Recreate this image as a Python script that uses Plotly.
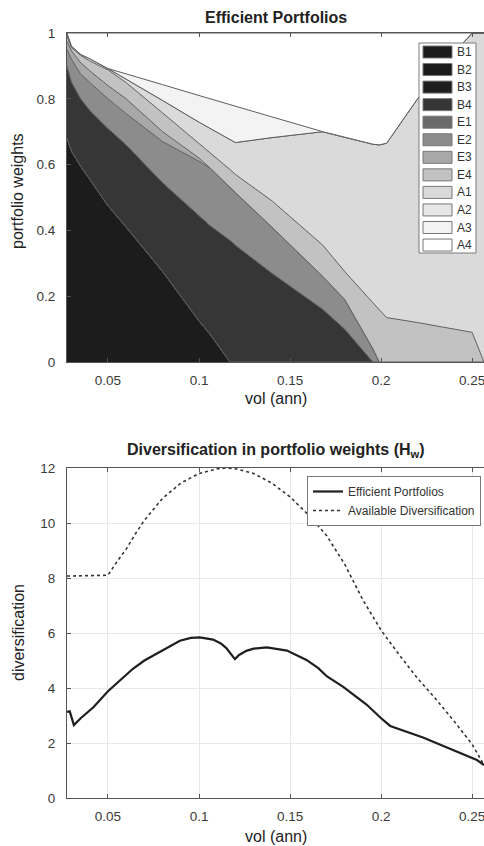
import plotly.graph_objects as go

# ---------------- data: efficient portfolio weights ----------------
vol = [0.0275, 0.03, 0.035, 0.04, 0.05, 0.06, 0.08, 0.1, 0.106, 0.117, 0.12,
       0.14, 0.168, 0.18, 0.1955, 0.199, 0.203, 0.22, 0.235, 0.245, 0.25, 0.2565]

B1 = [0.68, 0.64, 0.595, 0.555, 0.475, 0.41, 0.275, 0.125, 0.085, 0, 0,
      0, 0, 0, 0, 0, 0, 0, 0, 0, 0, 0]
B2 = [0] * 22
B3 = [0] * 22
B4 = [0.22, 0.21, 0.205, 0.21, 0.235, 0.25, 0.27, 0.32, 0.33, 0.37, 0.355,
      0.27, 0.16, 0.10, 0, 0, 0, 0, 0, 0, 0, 0]
E1 = [0] * 22
E2 = [0.05, 0.07, 0.075, 0.085, 0.09, 0.095, 0.125, 0.165, 0.175, 0.16, 0.16,
      0.14, 0.10, 0.09, 0.04, 0, 0, 0, 0, 0, 0, 0]
E3 = [0.025, 0.025, 0.035, 0.035, 0.04, 0.045, 0.03, 0.01, 0, 0, 0,
      0, 0, 0, 0, 0, 0, 0, 0, 0, 0, 0]
E4 = [0.015, 0.01, 0.022, 0.03, 0.048, 0.049, 0.057, 0.045, 0.046, 0.055, 0.055,
      0.08, 0.095, 0.085, 0.14, 0.16, 0.135, 0.12, 0.105, 0.095, 0.09, 0]
A1 = [0.01, 0.005, 0.003, 0.007, 0.004, 0.011, 0.038, 0.064, 0.074, 0.089, 0.097,
      0.192, 0.345, 0.408, 0.482, 0.50, 0.53, 0.68, 0.80, 0.875, 0.91, 1.0]
A2 = [0] * 22
A3 = [0, 0, 0, 0, 0, 0.015, 0.048, 0.081, 0.09, 0.108, 0.11,
      0.063, 0, 0, 0, 0, 0, 0, 0, 0, 0, 0]
A4 = [0, 0.04, 0.065, 0.078, 0.108, 0.125, 0.157, 0.19, 0.20, 0.218, 0.223,
      0.255, 0.30, 0.317, 0.338, 0.34, 0.335, 0.20, 0.095, 0.03, 0, 0]

asset_names = ["B1", "B2", "B3", "B4", "E1", "E2", "E3", "E4", "A1", "A2", "A3", "A4"]
asset_weights = [B1, B2, B3, B4, E1, E2, E3, E4, A1, A2, A3, A4]
asset_colors = ["#1c1c1c", "#1c1c1c", "#1e1e1e", "#363636", "#6a6a6a", "#8c8c8c",
                "#a8a8a8", "#c2c2c2", "#dadada", "#e6e6e6", "#f3f3f3", "#ffffff"]

# ---------------- data: diversification ----------------
vol_eff = [0.0275, 0.029, 0.0313, 0.035, 0.042, 0.05, 0.057, 0.0637, 0.07, 0.0786,
           0.0895, 0.0955, 0.1005, 0.1077, 0.112, 0.115, 0.118, 0.1197, 0.122, 0.126,
           0.13, 0.1373, 0.1483, 0.159, 0.1655, 0.1703, 0.179, 0.192, 0.2, 0.205,
           0.223, 0.2378, 0.2526, 0.2565]
div_eff = [3.13, 3.15, 2.65, 2.9, 3.3, 3.88, 4.3, 4.7, 5.0, 5.32,
           5.72, 5.82, 5.84, 5.76, 5.62, 5.45, 5.2, 5.05, 5.2, 5.35,
           5.43, 5.48, 5.36, 5.02, 4.72, 4.42, 4.05, 3.4, 2.9, 2.62,
           2.2, 1.78, 1.38, 1.2]

vol_avail = [0.0275, 0.05, 0.055, 0.06, 0.065, 0.07, 0.08, 0.09, 0.1, 0.11, 0.115,
             0.12, 0.13, 0.14, 0.15, 0.16, 0.17, 0.18, 0.19, 0.2, 0.21, 0.22,
             0.23, 0.24, 0.25, 0.2565]
div_avail = [8.07, 8.1, 8.6, 9.05, 9.6, 10.1, 10.9, 11.45, 11.8, 11.97, 12.0,
             11.97, 11.8, 11.45, 10.95, 10.3, 9.55, 8.5, 7.2, 6.1, 5.2, 4.35,
             3.6, 2.8, 1.95, 1.2]

x_ticks = [0.05, 0.1, 0.15, 0.2, 0.25]
x_ticktext = ["0.05", "0.1", "0.15", "0.2", "0.25"]
w_ticks = [0, 0.2, 0.4, 0.6, 0.8, 1]
w_ticktext = ["0", "0.2", "0.4", "0.6", "0.8", "1"]
d_ticks = [0, 2, 4, 6, 8, 10, 12]

# ---------------- figure ----------------
FONT = "Liberation Sans, Arial, sans-serif"
AXC = "#555555"
fig = go.Figure()

for name, w, c in zip(asset_names, asset_weights, asset_colors):
    fig.add_trace(go.Scatter(
        x=vol, y=w, name=name, mode="lines", stackgroup="one",
        fillcolor=c, line=dict(color="#5e5e5e", width=1),
        xaxis="x", yaxis="y", showlegend=False,
    ))

fig.add_trace(go.Scatter(
    x=vol_eff, y=div_eff, name="Efficient Portfolios", mode="lines",
    line=dict(color="#1e1e1e", width=2.2), xaxis="x2", yaxis="y2",
))
fig.add_trace(go.Scatter(
    x=vol_avail, y=div_avail, name="Available Diversification", mode="lines",
    line=dict(color="#333333", width=1.6, dash="dot"), xaxis="x2", yaxis="y2",
))

W, H = 484, 846
ml, mr, mt, mb = 67, 0, 33, 48
ph = H - mt - mb
pw = W - ml - mr


def py(pix):
    return (H - mb - pix) / ph


def px(pix):
    return (pix - ml) / pw


axis_common = dict(
    showline=True, linecolor=AXC, linewidth=1, ticks="inside", ticklen=4,
    tickcolor=AXC, tickfont=dict(family=FONT, size=13.5, color="#3a3a3a"),
    zeroline=False, ticklabeloverflow="allow",
)

fig.update_layout(
    width=W, height=H, margin=dict(l=ml, r=mr, t=mt, b=mb, autoexpand=False),
    paper_bgcolor="white", plot_bgcolor="white", font=dict(family=FONT),
    xaxis=dict(domain=[0, 1], anchor="y", range=[0.0275, 0.2565], tickvals=x_ticks,
               ticktext=x_ticktext, mirror="ticks", showgrid=False,
               ticklabelstandoff=6, **axis_common),
    yaxis=dict(domain=[py(362), 1], anchor="x", range=[0, 1], tickvals=w_ticks,
               ticktext=w_ticktext, showgrid=False, ticklabelstandoff=8,
               **axis_common),
    xaxis2=dict(domain=[0, 1], anchor="y2", range=[0.0275, 0.2565], tickvals=x_ticks,
                ticktext=x_ticktext, mirror="ticks", showgrid=True,
                gridcolor="#e8e8e8", ticklabelstandoff=6, **axis_common),
    yaxis2=dict(domain=[0, py(468)], anchor="x2", range=[0, 12], tickvals=d_ticks,
                showgrid=True, gridcolor="#e8e8e8", ticklabelstandoff=8,
                **axis_common),
    legend=dict(x=px(481), y=py(476), xanchor="right", yanchor="top",
                traceorder="normal", bgcolor="white", bordercolor="#7a7a7a",
                borderwidth=1, font=dict(family=FONT, size=12, color="#333"),
                itemwidth=30, tracegroupgap=0),
    showlegend=True,
)

# ----- legend of the weights panel (boxes + labels) -----
leg_left, leg_right, leg_top, leg_bot = 419, 476, 43, 253
fig.add_shape(type="rect", xref="paper", yref="paper",
              x0=px(leg_left), x1=px(leg_right), y0=py(leg_bot), y1=py(leg_top),
              fillcolor="white", line=dict(color="#7a7a7a", width=1))
step = 17.55
for i, (name, c) in enumerate(zip(asset_names, asset_colors)):
    yc = 52 + i * step
    fig.add_shape(type="rect", xref="paper", yref="paper",
                  x0=px(423), x1=px(452), y0=py(yc + 6), y1=py(yc - 6),
                  fillcolor=c, line=dict(color="#777777", width=1))
    fig.add_annotation(text=name, x=px(455), y=py(yc), xref="paper", yref="paper",
                       showarrow=False, xanchor="left", yanchor="middle",
                       font=dict(family=FONT, size=12, color="#333"))

annots = [
    dict(text="<b>Efficient Portfolios</b>", x=0.5, y=py(17), size=16),
    dict(text="<b>Diversification in portfolio weights (H<sub>w</sub>)</b>", x=0.5,
         y=py(450), size=16),
    dict(text="vol (ann)", x=0.5, y=py(398), size=16),
    dict(text="vol (ann)", x=0.5, y=py(836), size=16),
]
for a in annots:
    fig.add_annotation(text=a["text"], x=a["x"], y=a["y"], xref="paper", yref="paper",
                       showarrow=False, xanchor="center", yanchor="middle",
                       font=dict(family=FONT, size=a["size"], color="#222"))
fig.add_annotation(text="portfolio weights", x=px(17), y=py(191), xref="paper",
                   yref="paper", showarrow=False, textangle=-90, xanchor="center",
                   yanchor="middle", font=dict(family=FONT, size=16, color="#222"))
fig.add_annotation(text="diversification", x=px(18), y=py(633), xref="paper",
                   yref="paper", showarrow=False, textangle=-90, xanchor="center",
                   yanchor="middle", font=dict(family=FONT, size=16, color="#222"))

fig.write_html("out.html",
               config={"displayModeBar": False},
               post_script="document.body.style.margin='0';"
                           "document.body.style.overflow='hidden';")
